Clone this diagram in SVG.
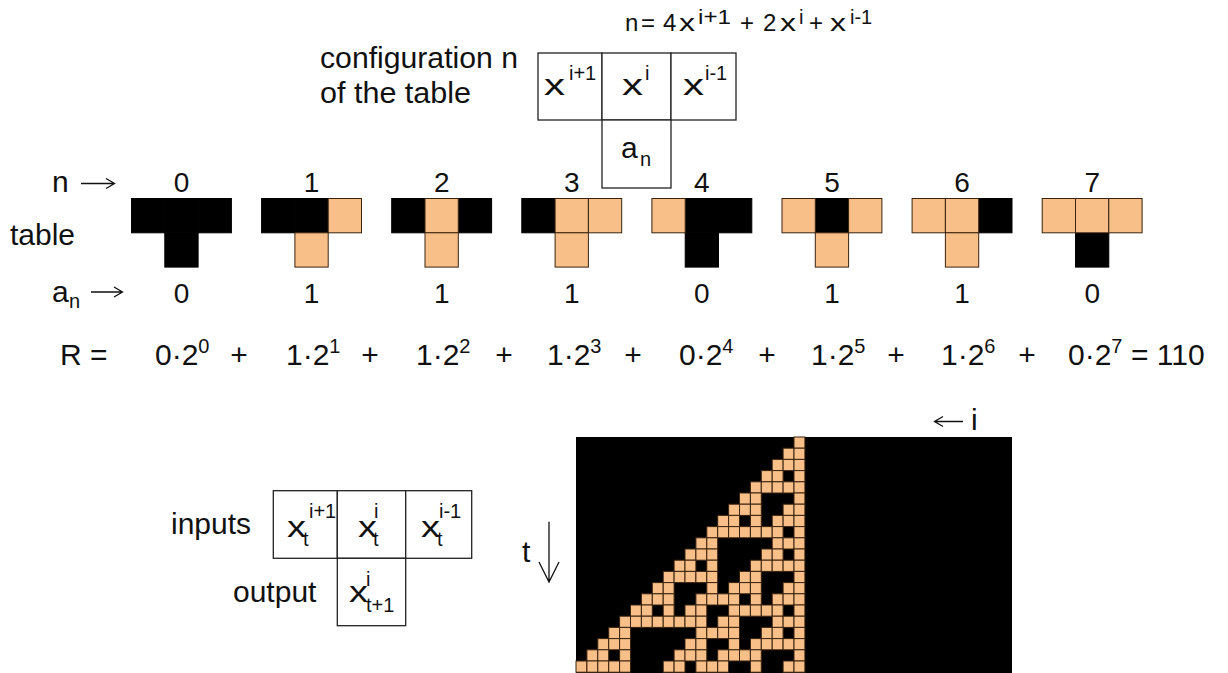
<svg xmlns="http://www.w3.org/2000/svg" xmlns:xlink="http://www.w3.org/1999/xlink" width="1228" height="673" viewBox="0 0 1228 673">
<style>
text { font-family: "Liberation Sans", Arial, Helvetica, sans-serif; fill: #111; }
.l { font-size: 30px; }
.m { font-size: 24px; }
.s { font-size: 20px; }
.d { font-size: 28px; text-anchor: middle; }
.box { fill: #fff; stroke: #222; stroke-width: 1.3; }
.k { fill: #000; stroke: #000; stroke-width: 1; }
.o { fill: #F8BF88; stroke: #3a2410; stroke-width: 1; }
.ar { fill: none; stroke: #111; stroke-width: 1.3; }
</style>
<defs>
<rect id="tc" width="33.3" height="34.3"/>
<rect id="c" width="10.9" height="11.2"/>
</defs>
<rect width="1228" height="673" fill="#fff"/>

<g id="formula">
<text class="m" x="625" y="31">n</text>
<text class="m" x="641" y="31">=</text>
<text class="m" x="663" y="31">4</text>
<text class="m" x="679" y="31" textLength="16" lengthAdjust="spacingAndGlyphs">x</text>
<text class="s" x="698" y="24" textLength="33" lengthAdjust="spacingAndGlyphs">i+1</text>
<text class="m" x="740" y="31">+</text>
<text class="m" x="763" y="31">2</text>
<text class="m" x="780" y="31" textLength="16" lengthAdjust="spacingAndGlyphs">x</text>
<text class="s" x="799" y="24">i</text>
<text class="m" x="809" y="31">+</text>
<text class="m" x="830" y="31" textLength="16" lengthAdjust="spacingAndGlyphs">x</text>
<text class="s" x="850" y="24">i-1</text>
</g>

<g id="config-label">
<text class="l" x="320" y="68" textLength="198" lengthAdjust="spacingAndGlyphs">configuration n</text>
<text class="l" x="320" y="103" textLength="151" lengthAdjust="spacingAndGlyphs">of the table</text>
</g>

<g id="config-box">
<rect class="box" x="538" y="53" width="64" height="67"/>
<rect class="box" x="602" y="53" width="69" height="67"/>
<rect class="box" x="671" y="53" width="65" height="67"/>
<rect class="box" x="602" y="120" width="69" height="68"/>
<text class="l" x="544" y="95" textLength="21" lengthAdjust="spacingAndGlyphs">x</text>
<text class="s" x="569" y="80">i+1</text>
<text class="l" x="622" y="95" textLength="21" lengthAdjust="spacingAndGlyphs">x</text>
<text class="s" x="645" y="80">i</text>
<text class="l" x="683" y="95" textLength="21" lengthAdjust="spacingAndGlyphs">x</text>
<text class="s" x="705" y="80">i-1</text>
<text class="l" x="621" y="158">a</text>
<text class="s" x="640" y="166">n</text>
</g>

<g id="row-labels">
<text class="l" x="52" y="192">n</text>
<text class="l" x="10" y="245">table</text>
<text class="l" x="52" y="302">a</text>
<text class="s" x="69" y="308">n</text>
</g>

<g id="n-values">
<text class="d" x="181.5" y="192">0</text>
<text class="d" x="311.6" y="192">1</text>
<text class="d" x="441.7" y="192">2</text>
<text class="d" x="571.8" y="192">3</text>
<text class="d" x="701.9" y="192">4</text>
<text class="d" x="832" y="192">5</text>
<text class="d" x="962.1" y="192">6</text>
<text class="d" x="1092.2" y="192">7</text>
</g>

<g id="T0" transform="translate(131.5,198.5)">
<use href="#tc" class="k" x="0" y="0"/><use href="#tc" class="k" x="33.3" y="0"/><use href="#tc" class="k" x="66.6" y="0"/><use href="#tc" class="k" x="33.3" y="34.3"/>
</g>
<g id="T1" transform="translate(261.6,198.5)">
<use href="#tc" class="k" x="0" y="0"/><use href="#tc" class="k" x="33.3" y="0"/><use href="#tc" class="o" x="66.6" y="0"/><use href="#tc" class="o" x="33.3" y="34.3"/>
</g>
<g id="T2" transform="translate(391.7,198.5)">
<use href="#tc" class="k" x="0" y="0"/><use href="#tc" class="k" x="66.6" y="0"/><use href="#tc" class="o" x="33.3" y="0"/><use href="#tc" class="o" x="33.3" y="34.3"/>
</g>
<g id="T3" transform="translate(521.8,198.5)">
<use href="#tc" class="k" x="0" y="0"/><use href="#tc" class="o" x="33.3" y="0"/><use href="#tc" class="o" x="66.6" y="0"/><use href="#tc" class="o" x="33.3" y="34.3"/>
</g>
<g id="T4" transform="translate(651.9,198.5)">
<use href="#tc" class="k" x="33.3" y="0"/><use href="#tc" class="k" x="66.6" y="0"/><use href="#tc" class="k" x="33.3" y="34.3"/><use href="#tc" class="o" x="0" y="0"/>
</g>
<g id="T5" transform="translate(782,198.5)">
<use href="#tc" class="k" x="33.3" y="0"/><use href="#tc" class="o" x="0" y="0"/><use href="#tc" class="o" x="66.6" y="0"/><use href="#tc" class="o" x="33.3" y="34.3"/>
</g>
<g id="T6" transform="translate(912.1,198.5)">
<use href="#tc" class="k" x="66.6" y="0"/><use href="#tc" class="o" x="0" y="0"/><use href="#tc" class="o" x="33.3" y="0"/><use href="#tc" class="o" x="33.3" y="34.3"/>
</g>
<g id="T7" transform="translate(1042.2,198.5)">
<use href="#tc" class="k" x="33.3" y="34.3"/><use href="#tc" class="o" x="0" y="0"/><use href="#tc" class="o" x="33.3" y="0"/><use href="#tc" class="o" x="66.6" y="0"/>
</g>

<g id="an-values">
<text class="d" x="181.5" y="303">0</text>
<text class="d" x="311.6" y="303">1</text>
<text class="d" x="441.7" y="303">1</text>
<text class="d" x="571.8" y="303">1</text>
<text class="d" x="701.9" y="303">0</text>
<text class="d" x="832" y="303">1</text>
<text class="d" x="962.1" y="303">1</text>
<text class="d" x="1092.2" y="303">0</text>
</g>

<g id="rule-sum">
<text class="l" x="60" y="365">R =</text>
<text class="l" x="155" y="365">0·2<tspan class="s" dy="-12">0</tspan></text>
<text class="l" x="286" y="365">1·2<tspan class="s" dy="-12">1</tspan></text>
<text class="l" x="416" y="365">1·2<tspan class="s" dy="-12">2</tspan></text>
<text class="l" x="547" y="365">1·2<tspan class="s" dy="-12">3</tspan></text>
<text class="l" x="679" y="365">0·2<tspan class="s" dy="-12">4</tspan></text>
<text class="l" x="811" y="365">1·2<tspan class="s" dy="-12">5</tspan></text>
<text class="l" x="941" y="365">1·2<tspan class="s" dy="-12">6</tspan></text>
<text class="l" x="1068" y="365">0·2<tspan class="s" dy="-12">7</tspan></text>
<text class="l" x="1131" y="365">= 110</text>
<text class="l" x="239" y="365" text-anchor="middle">+</text>
<text class="l" x="370" y="365" text-anchor="middle">+</text>
<text class="l" x="504" y="365" text-anchor="middle">+</text>
<text class="l" x="633" y="365" text-anchor="middle">+</text>
<text class="l" x="767" y="365" text-anchor="middle">+</text>
<text class="l" x="896" y="365" text-anchor="middle">+</text>
<text class="l" x="1027" y="365" text-anchor="middle">+</text>
</g>

<g id="io-box">
<text class="l" x="171" y="534">inputs</text>
<text class="l" x="233" y="602">output</text>
<rect class="box" x="273.3" y="490.7" width="64" height="67.6"/>
<rect class="box" x="337.3" y="490.7" width="68.4" height="67.6"/>
<rect class="box" x="405.7" y="490.7" width="66" height="67.6"/>
<rect class="box" x="337.3" y="558.3" width="68.4" height="67.4"/>
<text class="l" x="287" y="537" textLength="19" lengthAdjust="spacingAndGlyphs">x</text>
<text class="s" x="303" y="546">t</text>
<text class="s" x="309" y="518">i+1</text>
<text class="l" x="358" y="537" textLength="19" lengthAdjust="spacingAndGlyphs">x</text>
<text class="s" x="373" y="546">t</text>
<text class="s" x="374" y="518">i</text>
<text class="l" x="421" y="537" textLength="19" lengthAdjust="spacingAndGlyphs">x</text>
<text class="s" x="437" y="546">t</text>
<text class="s" x="439" y="518">i-1</text>
<text class="l" x="349" y="602" textLength="19" lengthAdjust="spacingAndGlyphs">x</text>
<text class="s" x="366" y="612">t+1</text>
<text class="s" x="366" y="586">i</text>
</g>

<g id="automaton">
<rect x="576" y="437" width="436" height="236" fill="#000"/>
<g class="o">
<g transform="translate(0,437)"><use href="#c" x="794"/></g>
<g transform="translate(0,448.2)"><use href="#c" x="783.1"/><use href="#c" x="794"/></g>
<g transform="translate(0,459.4)"><use href="#c" x="772.2"/><use href="#c" x="783.1"/><use href="#c" x="794"/></g>
<g transform="translate(0,470.6)"><use href="#c" x="761.3"/><use href="#c" x="772.2"/><use href="#c" x="794"/></g>
<g transform="translate(0,481.8)"><use href="#c" x="750.4"/><use href="#c" x="761.3"/><use href="#c" x="772.2"/><use href="#c" x="783.1"/><use href="#c" x="794"/></g>
<g transform="translate(0,493)"><use href="#c" x="739.5"/><use href="#c" x="750.4"/><use href="#c" x="794"/></g>
<g transform="translate(0,504.2)"><use href="#c" x="728.6"/><use href="#c" x="739.5"/><use href="#c" x="750.4"/><use href="#c" x="783.1"/><use href="#c" x="794"/></g>
<g transform="translate(0,515.4)"><use href="#c" x="717.7"/><use href="#c" x="728.6"/><use href="#c" x="750.4"/><use href="#c" x="772.2"/><use href="#c" x="783.1"/><use href="#c" x="794"/></g>
<g transform="translate(0,526.6)"><use href="#c" x="706.8"/><use href="#c" x="717.7"/><use href="#c" x="728.6"/><use href="#c" x="739.5"/><use href="#c" x="750.4"/><use href="#c" x="761.3"/><use href="#c" x="772.2"/><use href="#c" x="794"/></g>
<g transform="translate(0,537.8)"><use href="#c" x="695.9"/><use href="#c" x="706.8"/><use href="#c" x="772.2"/><use href="#c" x="783.1"/><use href="#c" x="794"/></g>
<g transform="translate(0,549)"><use href="#c" x="685"/><use href="#c" x="695.9"/><use href="#c" x="706.8"/><use href="#c" x="761.3"/><use href="#c" x="772.2"/><use href="#c" x="794"/></g>
<g transform="translate(0,560.2)"><use href="#c" x="674.1"/><use href="#c" x="685"/><use href="#c" x="706.8"/><use href="#c" x="750.4"/><use href="#c" x="761.3"/><use href="#c" x="772.2"/><use href="#c" x="783.1"/><use href="#c" x="794"/></g>
<g transform="translate(0,571.4)"><use href="#c" x="663.2"/><use href="#c" x="674.1"/><use href="#c" x="685"/><use href="#c" x="695.9"/><use href="#c" x="706.8"/><use href="#c" x="739.5"/><use href="#c" x="750.4"/><use href="#c" x="794"/></g>
<g transform="translate(0,582.6)"><use href="#c" x="652.3"/><use href="#c" x="663.2"/><use href="#c" x="706.8"/><use href="#c" x="728.6"/><use href="#c" x="739.5"/><use href="#c" x="750.4"/><use href="#c" x="783.1"/><use href="#c" x="794"/></g>
<g transform="translate(0,593.8)"><use href="#c" x="641.4"/><use href="#c" x="652.3"/><use href="#c" x="663.2"/><use href="#c" x="695.9"/><use href="#c" x="706.8"/><use href="#c" x="717.7"/><use href="#c" x="728.6"/><use href="#c" x="750.4"/><use href="#c" x="772.2"/><use href="#c" x="783.1"/><use href="#c" x="794"/></g>
<g transform="translate(0,605)"><use href="#c" x="630.5"/><use href="#c" x="641.4"/><use href="#c" x="663.2"/><use href="#c" x="685"/><use href="#c" x="695.9"/><use href="#c" x="728.6"/><use href="#c" x="739.5"/><use href="#c" x="750.4"/><use href="#c" x="761.3"/><use href="#c" x="772.2"/><use href="#c" x="794"/></g>
<g transform="translate(0,616.2)"><use href="#c" x="619.6"/><use href="#c" x="630.5"/><use href="#c" x="641.4"/><use href="#c" x="652.3"/><use href="#c" x="663.2"/><use href="#c" x="674.1"/><use href="#c" x="685"/><use href="#c" x="695.9"/><use href="#c" x="717.7"/><use href="#c" x="728.6"/><use href="#c" x="772.2"/><use href="#c" x="783.1"/><use href="#c" x="794"/></g>
<g transform="translate(0,627.4)"><use href="#c" x="608.7"/><use href="#c" x="619.6"/><use href="#c" x="695.9"/><use href="#c" x="706.8"/><use href="#c" x="717.7"/><use href="#c" x="728.6"/><use href="#c" x="761.3"/><use href="#c" x="772.2"/><use href="#c" x="794"/></g>
<g transform="translate(0,638.6)"><use href="#c" x="597.8"/><use href="#c" x="608.7"/><use href="#c" x="619.6"/><use href="#c" x="685"/><use href="#c" x="695.9"/><use href="#c" x="728.6"/><use href="#c" x="750.4"/><use href="#c" x="761.3"/><use href="#c" x="772.2"/><use href="#c" x="783.1"/><use href="#c" x="794"/></g>
<g transform="translate(0,649.8)"><use href="#c" x="586.9"/><use href="#c" x="597.8"/><use href="#c" x="619.6"/><use href="#c" x="674.1"/><use href="#c" x="685"/><use href="#c" x="695.9"/><use href="#c" x="717.7"/><use href="#c" x="728.6"/><use href="#c" x="739.5"/><use href="#c" x="750.4"/><use href="#c" x="794"/></g>
<g transform="translate(0,661)"><use href="#c" x="576"/><use href="#c" x="586.9"/><use href="#c" x="597.8"/><use href="#c" x="608.7"/><use href="#c" x="619.6"/><use href="#c" x="663.2"/><use href="#c" x="674.1"/><use href="#c" x="695.9"/><use href="#c" x="706.8"/><use href="#c" x="717.7"/><use href="#c" x="750.4"/><use href="#c" x="783.1"/><use href="#c" x="794"/></g>
</g>
<text class="l" x="971" y="430">i</text>
<text class="l" x="522" y="562">t</text>
</g>

<g id="connectors">
<path class="ar" d="M81 183.5 H114 M106 178.5 L114.5 183.5 L106 188.5"/>
<path class="ar" d="M91 292 H122 M114 287 L122.5 292 L114 297"/>
<path class="ar" d="M963 421.5 H935 M943 416.5 L934.5 421.5 L943 426.5"/>
<path class="ar" d="M549 521.7 V581.7 M539 562 L549 582 L559 562"/>
</g>
</svg>
